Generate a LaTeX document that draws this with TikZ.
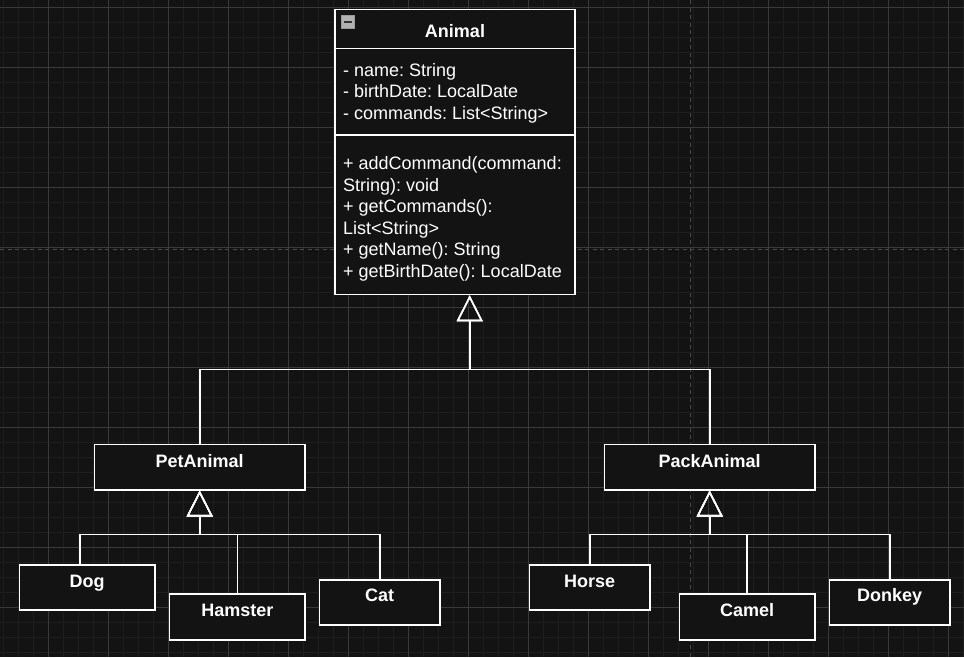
\documentclass[tikz,border=0pt]{standalone}
\usepackage{fontspec}
\setmainfont{Liberation Sans}
\usetikzlibrary{arrows.meta}
\frenchspacing
\definecolor{bgc}{HTML}{131313}
\definecolor{minorc}{HTML}{1E1E1E}
\definecolor{majorc}{HTML}{393939}
\definecolor{dashc}{HTML}{4A4A4A}
\tikzset{
  cls/.style={draw=white, line width=1.6pt, fill=bgc, inner sep=0pt, rectangle},
  lbl/.style={text=white, font=\fontsize{18}{21.6}\selectfont\bfseries, anchor=base, inner sep=0pt},
  mem/.style={text=white, font=\fontsize{18}{21.6}\selectfont, anchor=base west, inner sep=0pt},
  edge/.style={draw=white, line width=1.6pt},
  inh/.style={edge, -{Triangle[open, length=26pt, width=26pt]}},
  minorline/.style={draw=minorc, line width=1pt},
  majorline/.style={draw=majorc, line width=1pt},
  pagebreak/.style={draw=dashc, line width=1pt, dash pattern=on 4pt off 3.5pt},
}
\begin{document}
\begin{tikzpicture}[x=1pt, y=-1pt]
\fill[bgc] (0,0) rectangle (964,657);
\useasboundingbox (0,0) rectangle (964,657);
% grid
\foreach \k in {0,...,64} \draw[minorline] ({3.5+15*\k},0) -- ({3.5+15*\k},657);
\foreach \k in {0,...,43} \draw[minorline] (0,{7.3+15*\k}) -- (964,{7.3+15*\k});
\foreach \k in {0,...,15} \draw[majorline] ({48.5+60*\k},0) -- ({48.5+60*\k},657);
\foreach \k in {0,...,10} \draw[majorline] (0,{7.3+60*\k}) -- (964,{7.3+60*\k});
\draw[pagebreak] (0,249.7) -- (964,249.7);
\draw[pagebreak] (690,0) -- (690,657);

% boxes
\node[cls, minimum width=240pt, minimum height=285pt] (animal) at (455,152) {};
\node[cls, minimum width=210.7pt, minimum height=45.4pt] (pet) at (199.7,467) {};
\node[cls, minimum width=210.7pt, minimum height=45.4pt] (pack) at (709.7,467) {};
\node[cls, minimum width=135.7pt, minimum height=45pt] (dog) at (87.2,587.2) {};
\node[cls, minimum width=135.7pt, minimum height=45.7pt] (hamster) at (237.3,616.9) {};
\node[cls, minimum width=120.7pt, minimum height=45pt] (cat) at (379.7,602.2) {};
\node[cls, minimum width=120.7pt, minimum height=45pt] (horse) at (589.7,587.2) {};
\node[cls, minimum width=135.7pt, minimum height=45.7pt] (camel) at (747.2,616.9) {};
\node[cls, minimum width=120.7pt, minimum height=45pt] (donkey) at (889.7,602.2) {};

% Animal compartments
\coordinate (sep1) at (0,48.5);
\coordinate (sep2) at (0,135);
\draw[edge] (animal.west |- sep1) -- (animal.east |- sep1);
\draw[edge] (animal.west |- sep2) -- (animal.east |- sep2);

% collapse icon
\node[draw=gray!80, fill=gray!60, line width=1pt, minimum size=13pt, inner sep=0pt] (collapse) at (348,22) {};
\draw[black!80, line width=1.5pt] ([xshift=3pt]collapse.west) -- ([xshift=-3pt]collapse.east);

% connectors
\coordinate (aj) at (469.7,369.3);
\coordinate (pj) at (199.7,534.3);
\coordinate (kj) at (709.7,534.3);
\draw[inh] (pet.north) |- (aj) -- (aj |- animal.south);
\draw[inh] (pack.north) |- (aj) -- (aj |- animal.south);
\draw[inh] ([xshift=-7.2pt]dog.north) |- (pj) -- (pet.south);
\draw[inh] (hamster.north) |- (pj) -- (pet.south);
\draw[inh] (cat.north) |- (pj) -- (pet.south);
\draw[inh] (horse.north) |- (kj) -- (pack.south);
\draw[inh] (camel.north) |- (kj) -- (pack.south);
\draw[inh] (donkey.north) |- (kj) -- (pack.south);

% texts
\node[lbl] (animalt) at (455,37) {Animal};
\node[mem] (a1) at (343,76) {- name: String};
\node[mem] (a2) at (343,97.6) {- birthDate: LocalDate};
\node[mem] (a3) at (343,119.2) {- commands: List<String>};
\node[mem] (m1) at (343,169.5) {+ addCommand(command:};
\node[mem] (m2) at (343,191.1) {String): void};
\node[mem] (m3) at (343,212.7) {+ getCommands():};
\node[mem] (m4) at (343,234.3) {List<String>};
\node[mem] (m5) at (343,255.9) {+ getName(): String};
\node[mem] (m6) at (343,277.5) {+ getBirthDate(): LocalDate};
\node[lbl] (pett) at (199.7,467) {PetAnimal};
\node[lbl] (packt) at (709.7,467) {PackAnimal};
\node[lbl] (dogt) at (87.2,587) {Dog};
\node[lbl] (hamstert) at (237.3,616.7) {Hamster};
\node[lbl] (catt) at (379.7,601.7) {Cat};
\node[lbl] (horset) at (589.7,587) {Horse};
\node[lbl] (camelt) at (747.2,616.7) {Camel};
\node[lbl] (donkeyt) at (889.7,601.7) {Donkey};
\end{tikzpicture}
\end{document}
